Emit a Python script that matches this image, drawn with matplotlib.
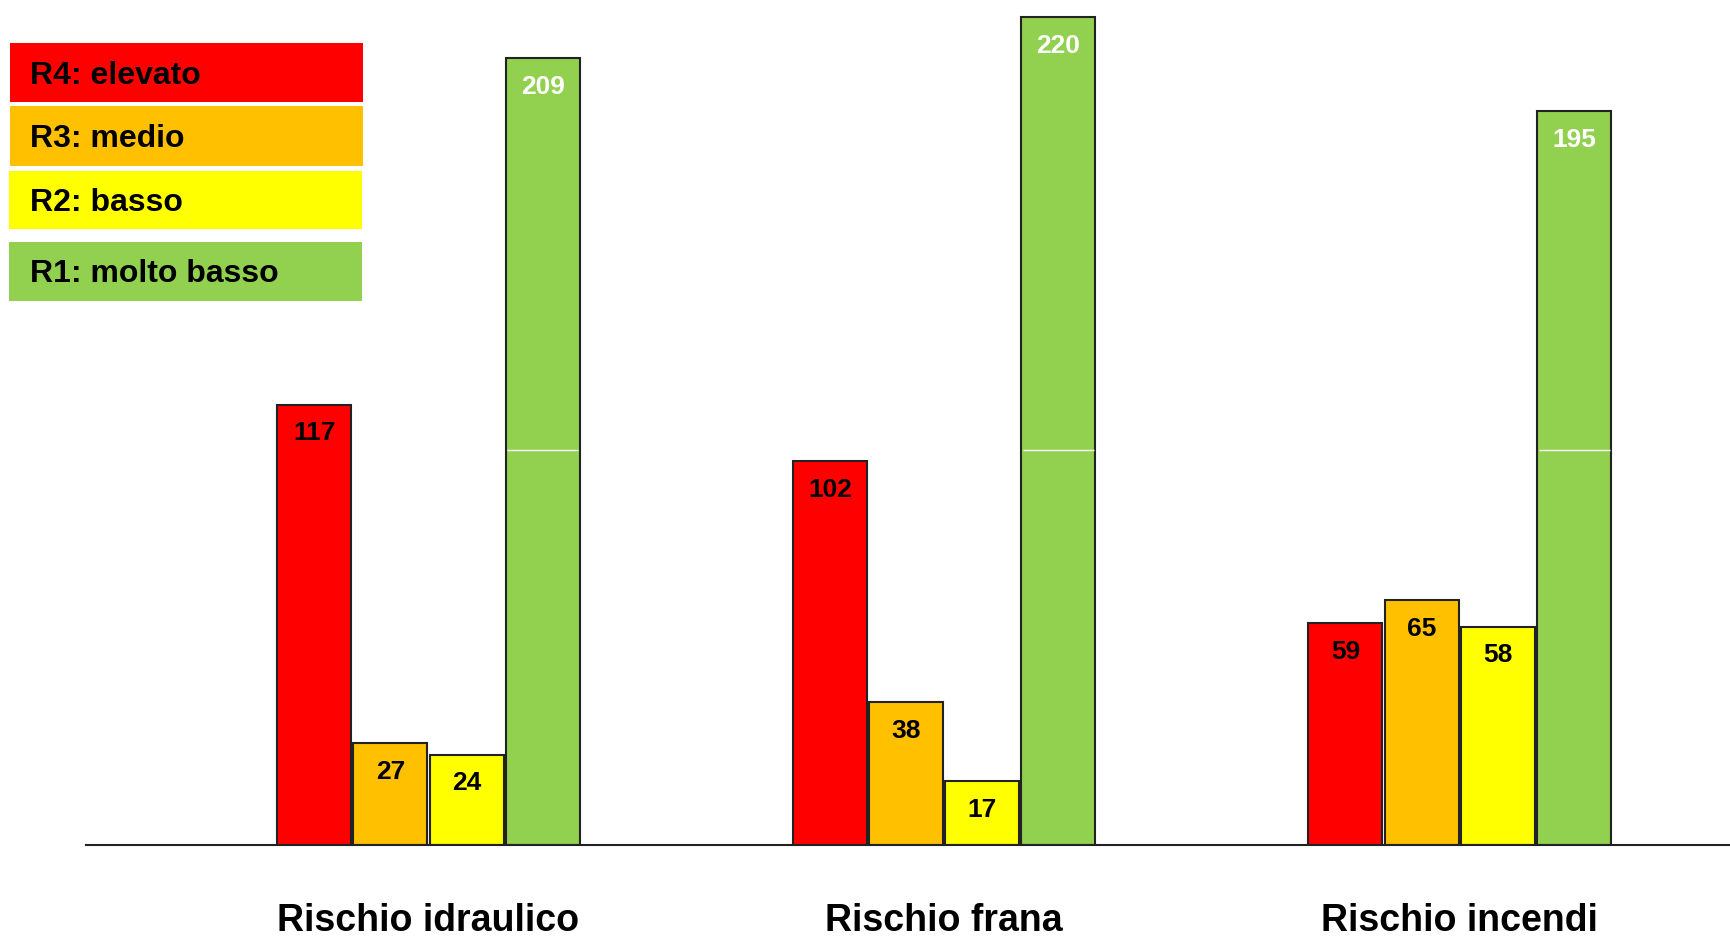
import matplotlib.pyplot as plt
from matplotlib.patches import Rectangle
import numpy as np

plt.rcParams['font.family'] = ['Liberation Sans', 'DejaVu Sans']
plt.rcParams['font.weight'] = 'bold'

# Data
categories = ['Rischio idraulico', 'Rischio frana', 'Rischio incendi']
levels = ['R4: elevato', 'R3: medio', 'R2: basso', 'R1: molto basso']
r4 = [117, 102, 59]
r3 = [27, 38, 65]
r2 = [24, 17, 58]
r1 = [209, 220, 195]
colors = ['#FF0000', '#FFC000', '#FFFF00', '#92D050']
label_colors = ['black', 'black', 'black', 'white']

series = [r4, r3, r2, r1]

fig = plt.figure(figsize=(17.31, 9.41), dpi=100)
ax = fig.add_axes([78 / 1568, 1 - 765 / 852, 1 - 78 / 1568, 765 / 852])

x = np.arange(len(categories))
slot = 0.1478
width = 0.1435

for i, vals in enumerate(series):
    pos = x + (i - 1.5) * slot
    bars = ax.bar(pos, vals, width, color=colors[i], edgecolor='#222222', linewidth=1.5, zorder=2)
    for b, v in zip(bars, vals):
        ax.annotate(str(v), (b.get_x() + b.get_width() / 2, v), xytext=(0, -12),
                    textcoords='offset points', ha='center', va='top',
                    fontsize=19, fontweight='bold', color=label_colors[i], zorder=3)

# thin white seam across the green bars
seam = 105
pos_r1 = x + 1.5 * slot
ax.hlines([seam] * len(x), pos_r1 - width / 2 + 0.003, pos_r1 + width / 2 - 0.003,
          color='white', linewidth=1, zorder=3)

ax.set_xlim(-0.664, 2.526)
ax.set_ylim(0, 224.5)
for s in ['top', 'right', 'left']:
    ax.spines[s].set_visible(False)
ax.spines['bottom'].set_color('#222222')
ax.spines['bottom'].set_linewidth(1.5)
ax.set_yticks([])
ax.set_xticks([])

# category names, placed on their baseline well below the axis
for xi, cat in zip(x, categories):
    ax.annotate(cat, (xi, 0), xytext=(0, -62), textcoords='offset points',
                ha='center', va='baseline', fontsize=27, fontweight='bold')

# legend boxes drawn in figure pixel space
W, H = 1731, 941
boxes = [(10, 43, 353, 59), (10, 106, 353, 60), (9, 171, 353, 58), (9, 242, 353, 59)]
for (bx, by, bw, bh), lab, c in zip(boxes, levels, colors):
    fig.patches.append(Rectangle((bx / W, 1 - (by + bh) / H), bw / W, bh / H,
                                 transform=fig.transFigure, facecolor=c, edgecolor='none'))
    fig.text(30 / W, 1 - (by + bh / 2 + 3) / H, lab, fontsize=23, fontweight='bold',
             va='center', ha='left')

fig.savefig('out.png', dpi=100)
